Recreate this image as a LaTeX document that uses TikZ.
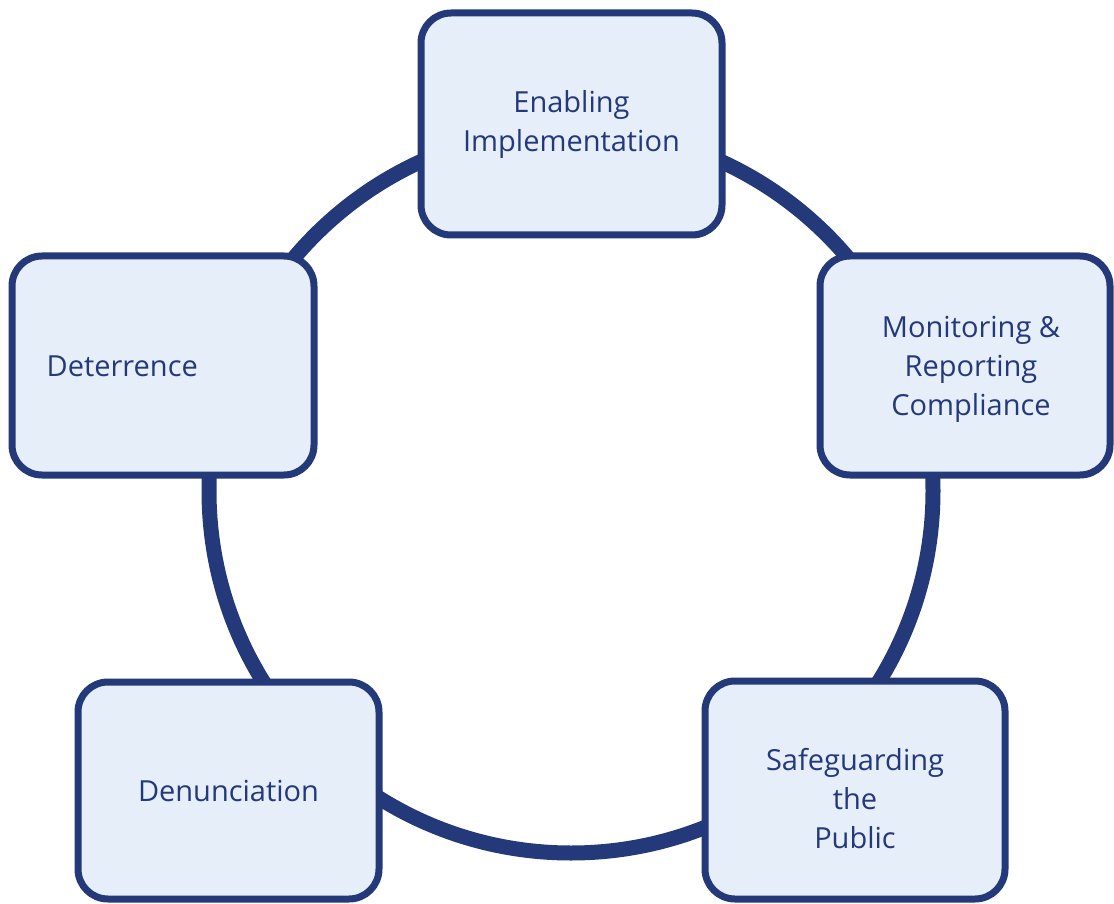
\documentclass[tikz,border=0pt]{standalone}
\usepackage{fontspec}
\setmainfont{Open Sans}
\definecolor{ringblue}{RGB}{35,57,122}
\definecolor{boxfill}{RGB}{230,238,249}

\begin{document}
\begin{tikzpicture}[x=1pt,y=-1pt,
  ring/.style={draw=ringblue,line width=15pt},
  stage/.style={draw=ringblue,fill=boxfill,line width=7pt,rounded corners=30pt},
  caption/.style={align=center,text=ringblue,inner sep=0pt,font=\fontsize{29}{39}\selectfont}]
  \useasboundingbox (0,0) rectangle (1114,904);
  \coordinate (hub) at (571,491);
  \draw[ring] (hub) circle[radius=362pt];

  % boxes
  \node[stage,minimum width=301pt,minimum height=222pt] (enabling) at (571.5,124) {};
  \node[stage,minimum width=290pt,minimum height=219pt] (monitoring) at (965,365.5) {};
  \node[stage,minimum width=300pt,minimum height=218pt] (safeguarding) at (855,790) {};
  \node[stage,minimum width=301pt,minimum height=217pt] (denunciation) at (228.5,790.5) {};
  \node[stage,minimum width=302pt,minimum height=219pt] (deterrence) at (163,365.5) {};

  % texts
  \node[caption] at (enabling.center) {Enabling\\Implementation};
  \node[caption] at ([xshift=6pt,yshift=-4pt]monitoring.center) {Monitoring \&\\Reporting\\Compliance};
  \node[caption] at ([yshift=-9pt]safeguarding.center) {Safeguarding\\the\\Public};
  \node[caption] at (denunciation.center) {Denunciation};
  \node[caption,anchor=west] at ([xshift=38pt,yshift=-1pt]deterrence.west) {Deterrence};
\end{tikzpicture}
\end{document}
